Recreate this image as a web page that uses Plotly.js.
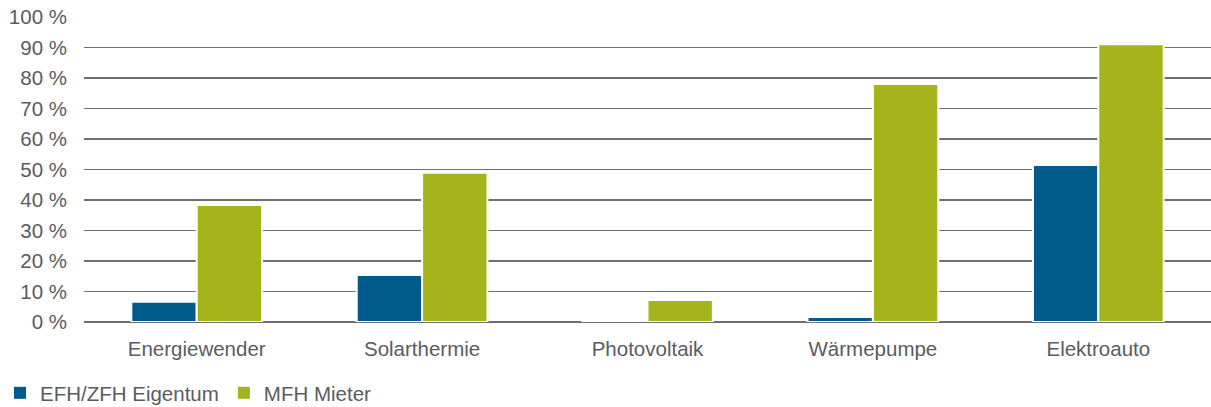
<!DOCTYPE html>
<html>
<head>
<meta charset="utf-8">
<script src="https://cdn.plot.ly/plotly-3.0.1.min.js"></script>
<style>
html,body{margin:0;padding:0;background:#fff;}
#chart{width:1211px;height:407px;}
</style>
</head>
<body>
<div id="chart"></div>
<script>
const categories = ["Energiewender", "Solarthermie", "Photovoltaik", "Wärmepumpe", "Elektroauto"];
const seriesNames = ["EFH/ZFH Eigentum", "MFH Mieter"];
const efhEigentum = [6.6, 15.4, 0.3, 1.6, 51.5];
const mfhMieter = [38.4, 48.9, 7.2, 78.0, 91.1];
const colors = ["#005a8c", "#a5b41a"];
const yTicks = [0, 10, 20, 30, 40, 50, 60, 70, 80, 90, 100];
const yTickLabels = yTicks.map(v => v + " %");

const font = {family: "Liberation Sans, Arial, sans-serif", size: 20.5, color: "#595c60"};

const traces = [
  {type: "bar", x: categories, y: efhEigentum, name: seriesNames[0], showlegend: false,
   marker: {color: colors[0], line: {color: "#ffffff", width: 2}}, hoverinfo: "x+y"},
  {type: "bar", x: categories, y: mfhMieter, name: seriesNames[1], showlegend: false,
   marker: {color: colors[1], line: {color: "#ffffff", width: 2}}, hoverinfo: "x+y"},
  {type: "scatter", mode: "markers", x: [null], y: [null], name: seriesNames[0],
   marker: {symbol: "square", size: 7, color: colors[0]}, showlegend: true},
  {type: "scatter", mode: "markers", x: [null], y: [null], name: seriesNames[1],
   marker: {symbol: "square", size: 7, color: colors[1]}, showlegend: true}
];

const layout = {
  width: 1211, height: 407,
  margin: {l: 84, r: 0, t: 17, b: 85},
  paper_bgcolor: "#ffffff", plot_bgcolor: "#ffffff",
  font: font,
  barmode: "group",
  bargap: 0.42,
  bargroupgap: 0,
  xaxis: {
    type: "category", automargin: false,
    showgrid: false, showline: false, zeroline: false,
    ticks: "", ticklabelstandoff: 12,
    tickfont: font
  },
  yaxis: {
    range: [0, 100], automargin: false,
    tickvals: yTicks, ticktext: yTickLabels,
    showgrid: true, gridcolor: "#6d6f72", gridwidth: 1.6,
    zeroline: true, zerolinecolor: "#6d6f72", zerolinewidth: 1.6,
    showline: false, ticks: "", ticklabelstandoff: 16,
    tickfont: font
  },
  legend: {
    orientation: "h", xref: "paper", yref: "container",
    x: -93 / 1127, xanchor: "left", y: 14 / 407, yanchor: "middle",
    bgcolor: "rgba(0,0,0,0)",
    font: font, itemwidth: 30, tracegroupgap: 0,
    itemsizing: "constant"
  },
  showlegend: true
};

Plotly.newPlot("chart", traces, layout, {displayModeBar: false, staticPlot: true});
</script>
</body>
</html>
